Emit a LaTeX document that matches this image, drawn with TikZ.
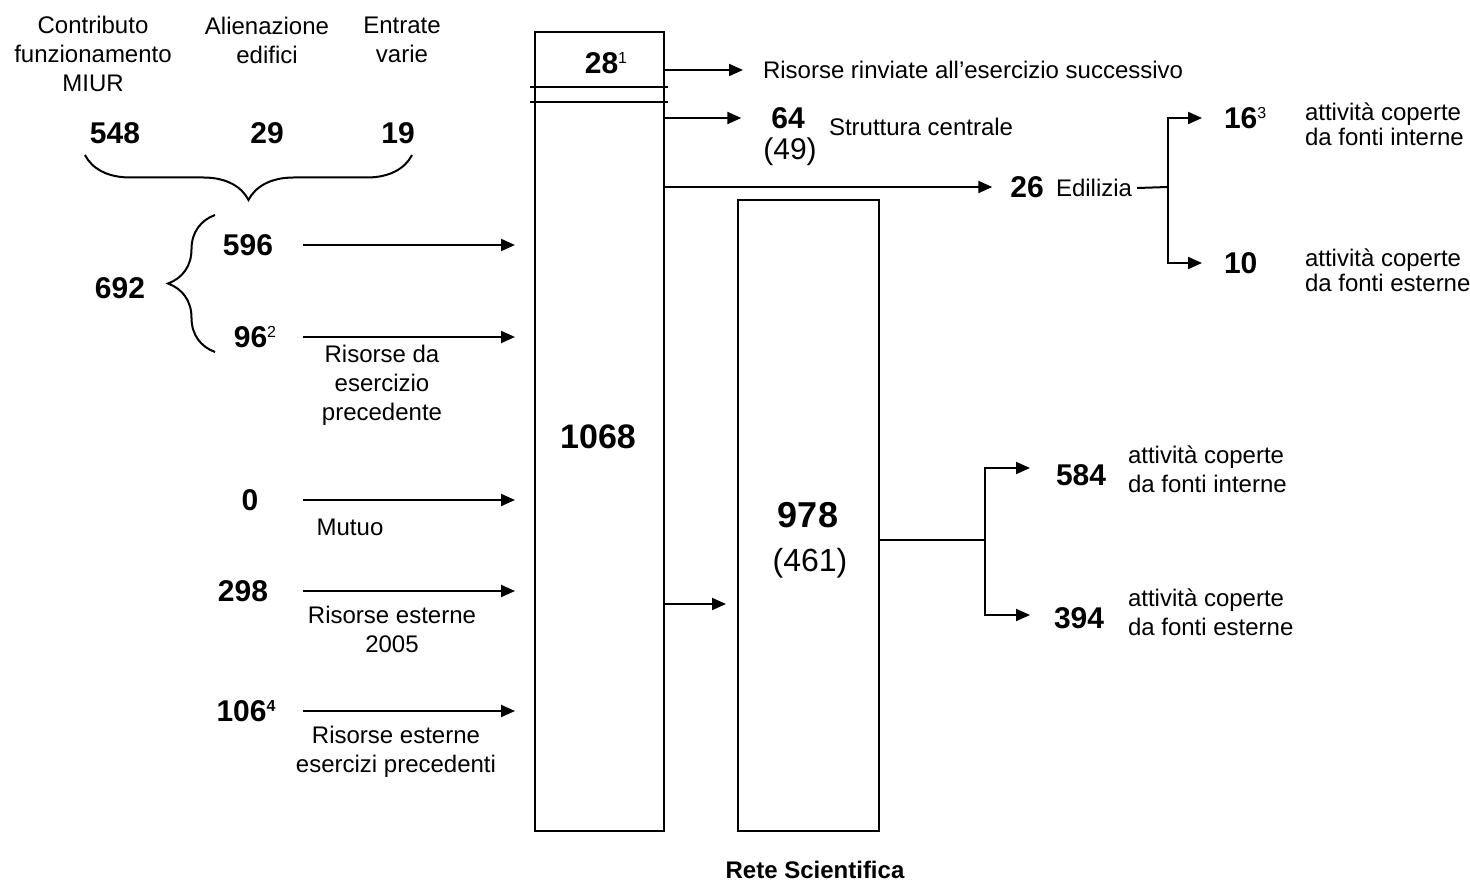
\documentclass[tikz,border=0pt]{standalone}
\usepackage{fontspec}
\setmainfont{Liberation Sans}
\usetikzlibrary{arrows.meta,decorations.pathreplacing}

\newcommand{\fnmark}[1]{\raisebox{5pt}{\fontsize{8}{8}\selectfont\mdseries #1}}

\begin{document}
\begin{tikzpicture}[x=0.5pt, y=-0.5pt, line width=1pt,
  txt/.style = {inner sep=0pt, align=center, font=\fontsize{12}{14.5}\selectfont},
  num/.style = {inner sep=0pt, font=\fontsize{15}{18}\selectfont\bfseries},
  big/.style = {inner sep=0pt, font=\fontsize{17}{20}\selectfont\bfseries},
  box/.style = {draw, inner sep=0pt},
  arr/.style = {-{Triangle[length=7pt, width=6pt]}},
  brc/.style = {decorate, decoration={brace, amplitude=#1, aspect=0.5}}]
\useasboundingbox (0,0) rectangle (1470,882);

	% the two columns
	\node[box, minimum width=64.5pt, minimum height=399.5pt] (tot) at (599.5,431.5) {};
	\node[box, minimum width=70.5pt, minimum height=315.5pt] (rete) at (808.5,515.5) {};
	\draw (530,87) -- (668,87);
	\draw (530,102) -- (668,102);
	\node[num] (n28) at (606,63) {28\fnmark{1}};
	\node[big] (n1068) at (598,437) {1068};
	\node[big, font=\fontsize{18}{20}\selectfont\bfseries] (n978) at (808,515) {978};
	\node[txt, font=\fontsize{16}{18}\selectfont] (n461) at (810,563) {(461)};
	\node[txt, font=\fontsize{12}{14}\selectfont\bfseries] (rs) at (815,870) {Rete Scientifica};

	% entrate
	\node[txt] (contr) at (93,54) {Contributo\\funzionamento\\MIUR};
	\node[txt] (alien) at (267,40) {Alienazione\\edifici};
	\node[txt] (entr) at (402,40) {Entrate\\varie};
	\node[num] (n548) at (115,133) {548};
	\node[num] (n29) at (267,133) {29};
	\node[num] (n19) at (398,133) {19};
	\draw[brc=22.5pt] (412,155) -- (85,155);

	\node[num] (n692) at (120,288) {692};
	\draw[brc=23.5pt] (215,352) -- (215,215);
	\node[num] (n596) at (248,245) {596};
	\node[num] (n96) at (255,337) {96\fnmark{2}};
	\node[txt] (rdes) at (382,385) {Risorse da\\esercizio\\precedente};
	\node[num] (n0) at (250,500) {0};
	\node[txt] (mutuo) at (350,527) {Mutuo};
	\node[num] (n298) at (243,591) {298};
	\node[txt] (rest05) at (392,629) {Risorse esterne\\2005};
	\node[num] (n106) at (246,711) {106\fnmark{\bfseries 4}};
	\node[txt] (restp) at (396,752) {Risorse esterne\\esercizi precedenti};

	\coordinate (in) at (303,0);
	\foreach \n in {n596,n96,n0,n298,n106}
		\draw[arr, shorten >=9.5pt] (in |- \n) -- (tot.west |- \n);

	% uscite
	\node[txt, anchor=west] (rinv) at (762,70) {Risorse rinviate all’esercizio successivo};
	\draw[arr, shorten >=9.5pt] (tot.east |- rinv.west) -- (rinv.west);

	\node[num] (n64) at (788,118) {64};
	\node[txt, font=\fontsize{15}{18}\selectfont] (n49) at (790,152) {(49)};
	\node[txt, anchor=west] (strutt) at (828,127) {Struttura centrale};
	\draw[arr, shorten >=14.5pt] (tot.east |- n64) -- (n64.west);

	\node[num] (n26) at (1027,187) {26};
	\node[txt, anchor=west] (edil) at (1055,188) {Edilizia};
	\draw[arr, shorten >=8.5pt] (tot.east |- n26) -- (n26.west);
	\coordinate (fork) at (1168,187);
	\draw ([xshift=2pt]edil.east) -- (fork);
	\node[num, anchor=west] (n16) at (1223,118) {16\fnmark{3}};
	\node[num, anchor=west] (n10) at (1223,263) {10};
	\draw[arr, shorten >=10.5pt] (fork) |- (n16.west);
	\draw[arr, shorten >=10.5pt] (fork) |- (n10.west);
	\node[txt, anchor=west, align=left, font=\fontsize{12}{12.5}\selectfont] (intE) at (1304,124) {attività coperte\\da fonti interne};
	\node[txt, anchor=west, align=left, font=\fontsize{12}{12.5}\selectfont] (estE) at (1304,270) {attività coperte\\da fonti esterne};

	\coordinate (lnk) at (0,604);
	\draw[arr, shorten >=5.5pt] (tot.east |- lnk) -- (rete.west |- lnk);

	\coordinate (fork2) at (985,540);
	\draw (rete.east |- fork2) -- (fork2);
	\node[num, anchor=west] (n584) at (1055,475) {584};
	\node[num, anchor=west] (n394) at (1053,618) {394};
	\draw[arr, shorten >=12.5pt] (fork2) |- ([yshift=3.5pt]n584.west);
	\draw[arr, shorten >=11.5pt] (fork2) |- ([yshift=1.5pt]n394.west);
	\node[txt, anchor=west, align=left] (intR) at (1127,469) {attività coperte\\da fonti interne};
	\node[txt, anchor=west, align=left] (estR) at (1127,612) {attività coperte\\da fonti esterne};
\end{tikzpicture}
\end{document}
